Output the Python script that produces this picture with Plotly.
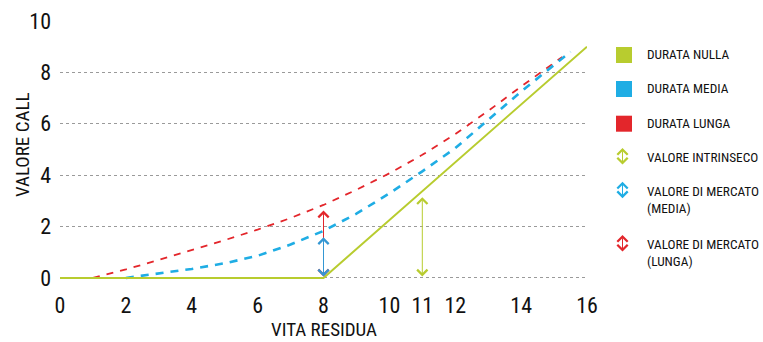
import plotly.graph_objects as go

# ---- data ----
x_ticks = [0, 2, 4, 6, 8, 10, 11, 12, 14, 16]
y_ticks = [0, 2, 4, 6, 8, 10]

nulla_x = [0, 8, 16]
nulla_y = [0, 0, 9]

media_x = [2, 3, 4, 5, 6, 7, 8, 9, 10, 11, 12, 13, 14, 15, 15.5]
media_y = [0, 0.17, 0.35, 0.57, 0.86, 1.3, 1.83, 2.5, 3.29, 4.15, 5.05, 6.15, 7.25, 8.29, 8.8]

lunga_x = [1, 2, 3, 4, 5, 6, 7, 8, 9, 10, 11, 12, 13, 14, 15, 15.25]
lunga_y = [0, 0.33, 0.7, 1.08, 1.47, 1.88, 2.33, 2.84, 3.43, 4.07, 4.79, 5.6, 6.5, 7.45, 8.38, 8.6]

# arrows: (x, top value)
arrow_intrinseco = (11, 3.14)
arrow_media = (8, 1.58)
arrow_lunga = (8, 2.62)

legend_squares = ["DURATA NULLA", "DURATA MEDIA", "DURATA LUNGA"]
legend_arrows = ["VALORE INTRINSECO", "VALORE DI MERCATO<br>(MEDIA)", "VALORE DI MERCATO<br>(LUNGA)"]
x_title = "VITA RESIDUA"
y_title = "VALORE CALL"

GREEN = "#b8cc2f"
BLUE = "#1fade4"
RED = "#e3262b"
ARROW_BLUE = "#3497d3"
FONT = "Roboto Condensed, Liberation Sans Narrow, DejaVu Sans Condensed, Arial Narrow, sans-serif"

W, H = 763, 342
L, R, T, B = 60, 176, 21, 61
PW, PH = W - L - R, H - T - B


def px(xp):
    return (xp - L) / PW


def py(yp):
    return (H - B - yp) / PH


fig = go.Figure()

fig.add_trace(go.Scatter(x=lunga_x, y=lunga_y, mode="lines",
                         line=dict(color=RED, width=1.8, dash="7px,7px"),
                         showlegend=False, hoverinfo="skip"))
fig.add_trace(go.Scatter(x=media_x, y=media_y, mode="lines",
                         line=dict(color=BLUE, width=2.6, dash="8px,7px"),
                         showlegend=False, hoverinfo="skip"))
fig.add_trace(go.Scatter(x=nulla_x, y=nulla_y, mode="lines",
                         line=dict(color=GREEN, width=2),
                         showlegend=False, hoverinfo="skip"))

annotations = []


def data_arrow(x, top, color):
    annotations.append(dict(
        x=x, y=top, ax=x, ay=0, xref="x", yref="y", axref="x", ayref="y",
        text="", showarrow=True, arrowside="end+start",
        arrowhead=4, startarrowhead=4, arrowsize=2, startarrowsize=2,
        arrowwidth=1, arrowcolor=color, standoff=0, startstandoff=0))


data_arrow(arrow_lunga[0], arrow_lunga[1], RED)
data_arrow(arrow_media[0], arrow_media[1], ARROW_BLUE)
data_arrow(arrow_intrinseco[0], arrow_intrinseco[1], GREEN)

LEG_SIZE = 13.3
shapes = []
sq_colors = [GREEN, BLUE, RED]
sq_tops = [47, 81, 115.7]
for label, col, top in zip(legend_squares, sq_colors, sq_tops):
    shapes.append(dict(type="rect", xref="paper", yref="paper",
                       x0=px(616), x1=px(632), y0=py(top + 16), y1=py(top),
                       fillcolor=col, line=dict(width=0)))
    annotations.append(dict(x=px(645), y=py(top + 8), xref="paper", yref="paper",
                            text=label, showarrow=False, xanchor="left", yanchor="middle",
                            font=dict(family=FONT, size=LEG_SIZE, color="#111111")))

ar_colors = [GREEN, BLUE, RED]
ar_tops = [148, 181.7, 235]
for label, col, top in zip(legend_arrows, ar_colors, ar_tops):
    annotations.append(dict(x=px(622.5), y=py(top), xref="paper", yref="paper",
                            ax=0, ay=18, axref="pixel", ayref="pixel",
                            text="", showarrow=True, arrowside="end+start",
                            arrowhead=4, startarrowhead=4, arrowsize=2, startarrowsize=2,
                            arrowwidth=1, arrowcolor=col, standoff=0, startstandoff=0))
    annotations.append(dict(x=px(645), y=py(top), xref="paper", yref="paper",
                            text=label, showarrow=False, xanchor="left", yanchor="top",
                            align="left",
                            font=dict(family=FONT, size=LEG_SIZE, color="#111111")))

# axis titles as annotations for exact placement
annotations.append(dict(x=px(323.5), y=py(329), xref="paper", yref="paper",
                        text=x_title, showarrow=False, xanchor="center", yanchor="middle",
                        font=dict(family=FONT, size=19, color="#111111")))
annotations.append(dict(x=px(22), y=py(145), xref="paper", yref="paper",
                        text=y_title, showarrow=False, textangle=-90,
                        xanchor="center", yanchor="middle",
                        font=dict(family=FONT, size=19, color="#111111")))

fig.update_layout(
    width=W, height=H,
    margin=dict(l=L, r=R, t=T, b=B),
    paper_bgcolor="white", plot_bgcolor="white",
    font=dict(family=FONT, color="#111111"),
    xaxis=dict(range=[0, 16], tickvals=x_ticks, ticktext=[str(v) for v in x_ticks],
               showgrid=False, zeroline=False, showline=False, ticks="",
               automargin=False,
               tickfont=dict(size=22, family=FONT, color="#111111"),
               ticklabelstandoff=9),
    yaxis=dict(range=[-0.12, 10], tickvals=y_ticks, ticktext=[str(v) for v in y_ticks],
               showgrid=True, gridcolor="#9a9a9a", griddash="dot", gridwidth=1,
               zeroline=False, showline=False, ticks="",
               automargin=False,
               tickfont=dict(size=22, family=FONT, color="#111111"),
               ticklabelstandoff=8),
    shapes=shapes,
    annotations=annotations,
)

fig.write_html("out.html", config={"displayModeBar": False},
               post_script="document.body.style.margin='0';")
